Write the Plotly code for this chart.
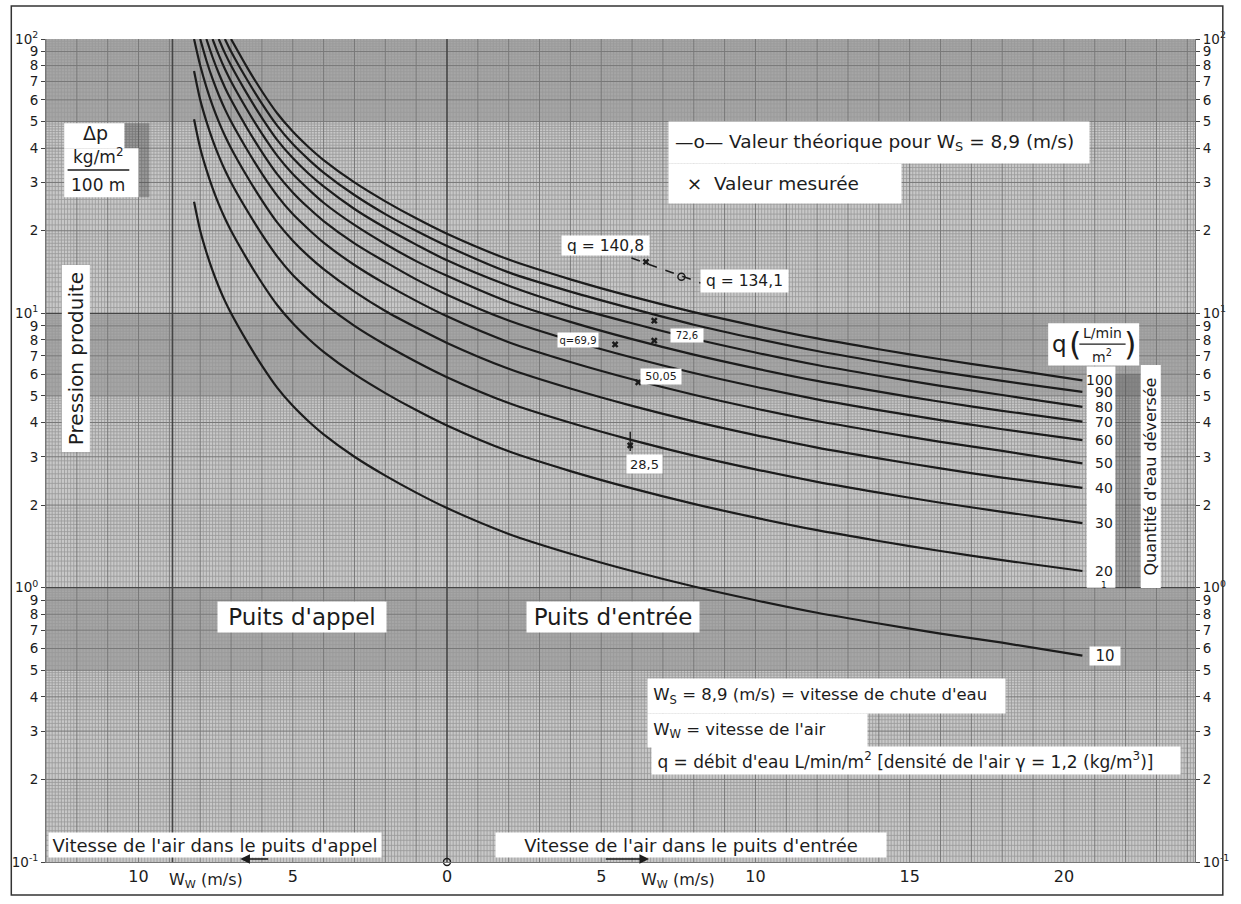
import math
import plotly.graph_objects as go

FONT = "DejaVu Sans"
INK = "#1c1c1c"

# Air velocity in the shaft W_w (m/s); negative = downcast (puits d'appel)
W_PTS = [-8.2, -8.0, -7.8, -7.6, -7.4, -7.2, -7.0, -6.5, -6.0, -5.5, -5.0, -4.5, -4.0,
         -3.0, -2.0, -1.0, 0.0, 2.0, 4.0, 6.0, 8.0, 10.0, 12.0, 14.0, 16.0, 18.0, 20.6]

# Pressure produced (kg/m2 per 100 m) for each water flow q (L/min/m2).
# Curves that enter from the top edge of the chart begin later in W_PTS.
Q_VALUES = [10, 20, 30, 40, 50, 60, 70, 80, 90, 100]
DP_Q10 = [25.5, 20.0, 16.7, 14.3, 12.5, 11.1, 10.0, 7.95, 6.45, 5.35, 4.6, 4.05, 3.62,
          3.0, 2.56, 2.22, 1.95, 1.57, 1.33, 1.15, 1.01, 0.90, 0.81, 0.74, 0.68, 0.63, 0.565]
DP_Q20 = [51, 40, 33.4, 28.6, 25.0, 22.2, 20.0, 15.9, 12.9, 10.7, 9.2, 8.1, 7.24,
          6.0, 5.12, 4.44, 3.90, 3.14, 2.66, 2.30, 2.02, 1.80, 1.62, 1.48, 1.36, 1.26, 1.15]
DP_Q30 = [76.5, 60, 50.1, 42.9, 37.5, 33.3, 30.0, 23.9, 19.4, 16.1, 13.8, 12.2, 10.9,
          9.0, 7.68, 6.66, 5.85, 4.71, 3.99, 3.45, 3.03, 2.70, 2.43, 2.22, 2.04, 1.89, 1.72]
DP_Q40 = [100, 80, 66.8, 57.2, 50, 44.4, 40, 31.8, 25.8, 21.4, 18.4, 16.2, 14.5,
          12.0, 10.2, 8.88, 7.80, 6.28, 5.32, 4.60, 4.04, 3.60, 3.24, 2.96, 2.72, 2.52, 2.31]
DP_Q50 = [100, 83.5, 71.5, 62.5, 55.5, 50, 39.8, 32.3, 26.8, 23.0, 20.3, 18.1,
          15.0, 12.8, 11.1, 9.75, 7.85, 6.65, 5.75, 5.05, 4.50, 4.05, 3.70, 3.40, 3.15, 2.84]
DP_Q60 = [100, 85.8, 75, 66.6, 60, 47.7, 38.7, 32.1, 27.6, 24.3, 21.7,
          18.0, 15.4, 13.3, 11.7, 9.42, 7.98, 6.90, 6.06, 5.40, 4.86, 4.44, 4.08, 3.78, 3.45]
DP_Q70 = [100, 87.5, 77.7, 70, 55.7, 45.2, 37.5, 32.2, 28.4, 25.3,
          21.0, 17.9, 15.5, 13.7, 11.0, 9.31, 8.05, 7.07, 6.30, 5.67, 5.18, 4.76, 4.41, 4.03]
DP_Q80 = [100, 88.8, 80, 63.6, 51.6, 42.8, 36.8, 32.4, 29.0,
          24.0, 20.5, 17.8, 15.6, 12.6, 10.6, 9.20, 8.08, 7.20, 6.48, 5.92, 5.44, 5.04, 4.56]
DP_Q90 = [100, 90, 71.6, 58.1, 48.2, 41.4, 36.5, 32.6,
          27.0, 23.0, 20.0, 17.6, 14.1, 12.0, 10.4, 9.09, 8.10, 7.29, 6.66, 6.12, 5.67, 5.17]
DP_Q100 = [100, 79.5, 64.5, 53.5, 46, 40.5, 36.2,
           30, 25.6, 22.2, 19.5, 15.7, 13.3, 11.5, 10.1, 9.0, 8.1, 7.4, 6.8, 6.3, 5.70]
CURVES = [DP_Q10, DP_Q20, DP_Q30, DP_Q40, DP_Q50, DP_Q60, DP_Q70, DP_Q80, DP_Q90, DP_Q100]

# Theoretical value (dashed segment with open circle) and measured points
THEO_LINE_W = [5.98, 8.23]
THEO_LINE_DP = [15.9, 12.9]
THEO_PT_W = [7.6]
THEO_PT_DP = [13.6]
MEAS_W = [6.45, 6.72, 5.45, 6.72, 6.2, 5.94]
MEAS_DP = [15.4, 9.4, 7.7, 7.95, 5.6, 3.3]
ERR_W = [5.94, 5.94]
ERR_DP = [3.15, 3.7]

X_TICKS = [-10, -5, 0, 5, 10, 15, 20]
X_TICK_TEXT = ["10", "5", "0", "5", "10", "15", "20"]

X_RANGE = [-13.0, 24.25]
Y_MIN, Y_MAX = 0.1, 100.0


def py(v):
    """paper y fraction for a pressure value on the log axis"""
    return (math.log10(v) + 1.0) / 3.0


def ly(v):
    """annotation y (log axis expects log10)"""
    return math.log10(v)


# ---------- graph-paper ruling ----------
def vlines(xs):
    gx, gy = [], []
    for x in xs:
        gx += [x, x, None]
        gy += [Y_MIN, Y_MAX, None]
    return gx, gy


def hlines(vals):
    gx, gy = [], []
    for v in vals:
        gx += [X_RANGE[0], X_RANGE[1], None]
        gy += [v, v, None]
    return gx, gy


fine_x = [k / 10 for k in range(-130, 243) if k % 10 != 0]
unit_x = [k for k in range(-13, 25) if k != 0]
fine_y, unit_y = [], []
for dec in (0.1, 1.0, 10.0):
    steps = list(range(100, 200, 5)) + list(range(200, 500, 10)) + list(range(500, 1000, 20))
    for i in steps:
        if i % 100 == 0:
            if i != 100:
                unit_y.append(round(i / 100 * dec, 6))
        else:
            fine_y.append(round(i / 100 * dec, 6))

fig = go.Figure()


def add_grid(gx, gy, color, width):
    fig.add_trace(go.Scatter(x=gx, y=gy, mode="lines", line=dict(color=color, width=width),
                             hoverinfo="skip", showlegend=False, connectgaps=False))


gx, gy = vlines(fine_x); add_grid(gx, gy, "#999999", 0.8)
gx, gy = hlines(fine_y); add_grid(gx, gy, "#999999", 0.8)
gx, gy = vlines(unit_x); add_grid(gx, gy, "#787878", 1.0)
gx, gy = hlines(unit_y); add_grid(gx, gy, "#787878", 1.0)
gx, gy = hlines([1.0, 10.0]); add_grid(gx, gy, "#454545", 1.4)
gx, gy = vlines([0.0, -8.9]); add_grid(gx, gy, "#454545", 1.6)

# ---------- curves ----------
for q, dp in zip(Q_VALUES, CURVES):
    fig.add_trace(go.Scatter(
        x=W_PTS[-len(dp):], y=dp, mode="lines",
        line=dict(color=INK, width=2.2, shape="spline", smoothing=0.8),
        name=f"q = {q}", hoverinfo="skip", showlegend=False))

fig.add_trace(go.Scatter(x=THEO_LINE_W, y=THEO_LINE_DP, mode="lines",
                         line=dict(color=INK, width=1.6, dash="dash"),
                         hoverinfo="skip", showlegend=False))
fig.add_trace(go.Scatter(x=THEO_PT_W, y=THEO_PT_DP, mode="markers",
                         marker=dict(symbol="circle-open", size=7, color=INK, line=dict(width=1.5)),
                         hoverinfo="skip", showlegend=False))
fig.add_trace(go.Scatter(x=ERR_W, y=ERR_DP, mode="lines", line=dict(color=INK, width=1.4),
                         hoverinfo="skip", showlegend=False))
fig.add_trace(go.Scatter(x=MEAS_W, y=MEAS_DP, mode="markers",
                         marker=dict(symbol="x", size=6, color=INK),
                         hoverinfo="skip", showlegend=False))
# origin marker on the bottom edge (also carries the right-hand axis)
fig.add_trace(go.Scatter(x=[0.0], y=[Y_MIN], yaxis="y2", mode="markers", cliponaxis=False,
                         marker=dict(symbol="circle-open", size=7, color=INK, line=dict(width=1.4)),
                         hoverinfo="skip", showlegend=False))

# ---------- shapes ----------
shapes = []
for hi, lo in [(100, 50), (10, 5), (1, 0.5)]:
    shapes.append(dict(type="rect", xref="paper", yref="paper", x0=0, x1=1,
                       y0=py(lo), y1=py(hi), fillcolor="rgba(0,0,0,0.17)",
                       line=dict(width=0), layer="below"))


def box(x0, x1, v0, v1, fill="white"):
    shapes.append(dict(type="rect", xref="x", yref="paper", x0=x0, x1=x1,
                       y0=py(v0), y1=py(v1), fillcolor=fill, line=dict(width=0), layer="above"))


box(-10.46, -9.65, 26.5, 49.3, "rgba(60,60,60,0.35)")   # hatched strip beside the unit box
box(-12.41, -10.46, 40.0, 49.3)                        # Δp unit box (upper part)
box(-12.41, -10.0, 26.5, 40.0)                         # Δp unit box (lower part)
box(19.49, 22.44, 6.46, 9.2)                           # q header
box(20.74, 21.67, 1.0, 6.4)                            # q label column
box(21.67, 22.48, 1.0, 6.0, "rgba(60,60,60,0.30)")     # hatched scale strip
shapes.append(dict(type="line", xref="x", yref="paper", x0=-12.3, x1=-10.3,
                   y0=py(33.3), y1=py(33.3), line=dict(color=INK, width=1.4), layer="above"))
shapes.append(dict(type="line", xref="x", yref="paper", x0=20.5, x1=22.0,
                   y0=py(7.72), y1=py(7.72), line=dict(color=INK, width=1.2), layer="above"))
# outer frame of the sheet
shapes.append(dict(type="rect", xref="paper", yref="paper", x0=-0.0302, x1=1.0242,
                   y0=-0.0401, y1=1.0401, line=dict(color="#333", width=1.5),
                   fillcolor="rgba(0,0,0,0)", layer="above"))

# ---------- text ----------
anns = []


def text(t, x, y, size=15, xanchor="center", yanchor="middle", bg=None, w=None, h=None,
         angle=0, align="center", xref="x", yref="y"):
    a = dict(text=t, x=x, y=y, xref=xref, yref=yref, showarrow=False, xanchor=xanchor,
             yanchor=yanchor, font=dict(family=FONT, size=size, color=INK),
             textangle=angle, align=align, borderpad=0)
    if bg:
        a["bgcolor"] = bg
    if w:
        a["width"] = w
    if h:
        a["height"] = h
    anns.append(a)


text("Δp", -11.4, ly(45.5), 19)
text("kg/m<sup>2</sup>", -11.3, ly(37.3), 17)
text("100 m", -11.3, ly(29.4), 17)
text("Pression produite", -12.03, ly(6.84), 20, bg="white", w=186, h=27, angle=-90)

text("\u00a0—o— Valeur théorique pour W<sub>S</sub> = 8,9 (m/s)", 7.16, ly(42.0), 18.5,
     xanchor="left", bg="white", w=420, h=41, align="left")
text("\u00a0\u00a0\u00a0×\u00a0\u00a0Valeur mesurée", 7.16, ly(29.8), 18.5,
     xanchor="left", bg="white", w=232, h=39, align="left")

text("q = 140,8", 3.68, ly(17.6), 15.5, xanchor="left", bg="white", w=87, h=19)
text("q = 134,1", 8.19, ly(13.1), 15.5, xanchor="left", bg="white", w=87, h=22)
text("q=69,9", 3.58, ly(8.0), 10, xanchor="left", bg="white", w=40, h=14)
text("72,6", 7.22, ly(8.28), 10, xanchor="left", bg="white", w=32, h=13)
text("50,05", 6.25, ly(5.9), 11, xanchor="left", bg="white", w=40, h=15)
text("28,5", 5.8, ly(2.82), 13, xanchor="left", bg="white", w=35, h=18)

for q, dp in zip(Q_VALUES, CURVES):
    if q == 10:
        text("10", 20.8, ly(dp[-1]), 15, xanchor="left", bg="white", w=30, h=18)
    else:
        text(str(q), 21.64, ly(dp[-1]), 14, xanchor="right")
text("1", 21.3, ly(1.025), 9)

text("q", 19.85, ly(7.74), 23)
text("(", 20.35, ly(7.74), 32)
text(")", 22.15, ly(7.74), 32)
text("L/min", 21.25, ly(8.5), 14)
text("m<sup>2</sup>", 21.25, ly(7.0), 14)
text("Quantité d'eau déversée", 22.82, ly(2.54), 16, bg="white", w=222, h=19, angle=-90)

text("Puits d'appel", -7.46, ly(0.78), 23, xanchor="left", bg="white", w=168, h=30)
text("Puits d'entrée", 2.55, ly(0.78), 23, xanchor="left", bg="white", w=172, h=30)

text("\u00a0W<sub>S</sub> = 8,9 (m/s) = vitesse de chute d'eau", 6.48, ly(0.402), 16.5,
     xanchor="left", bg="white", w=357, h=34, align="left")
text("\u00a0W<sub>W</sub> = vitesse de l'air", 6.48, ly(0.302), 16.5,
     xanchor="left", bg="white", w=219, h=33, align="left")
text("\u00a0q = débit d'eau L/min/m<sup>2</sup> [densité de l'air γ = 1,2 (kg/m<sup>3</sup>)]",
     6.6, ly(0.234), 17, xanchor="left", bg="white", w=528, h=27, align="left")

text("Vitesse de l'air dans le puits d'appel", -12.95, ly(0.1155), 18, xanchor="left",
     bg="white", w=332, h=24)
text("Vitesse de l'air dans le puits d'entrée", 1.55, ly(0.1155), 18, xanchor="left",
     bg="white", w=390, h=24)

text("W<sub>W</sub> (m/s)", -7.8, -0.022, 16, xref="x", yref="paper")
text("W<sub>W</sub> (m/s)", 7.5, -0.022, 16, xref="x", yref="paper")

# direction arrows just above the bottom edge
for tail, head in [(-5.75, -6.7), (5.1, 6.55)]:
    anns.append(dict(text="", x=head, y=ly(0.1025), ax=tail, ay=ly(0.1025),
                     xref="x", yref="y", axref="x", ayref="y", showarrow=True,
                     arrowhead=2, arrowsize=1.2, arrowwidth=1.6, arrowcolor=INK))

# ---------- axes ----------
y_vals, y_text = [], []
for e in (-1, 0, 1):
    for m in range(1, 10):
        y_vals.append(m * 10 ** e)
        y_text.append(f"10<sup>{e}</sup>" if m == 1 else str(m))
y_vals.append(100)
y_text.append("10<sup>2</sup>")

y_common = dict(type="log", range=[-1, 2], tickmode="array", tickvals=y_vals, ticktext=y_text,
                ticks="outside", ticklen=4, tickcolor="#444", showgrid=False, zeroline=False,
                showline=True, linecolor="#777", linewidth=1,
                tickfont=dict(family=FONT, size=13.5, color=INK), fixedrange=True)

fig.update_layout(
    width=1241, height=904,
    margin=dict(l=45, r=39, t=39, b=42),
    paper_bgcolor="white", plot_bgcolor="#c8c8c8",
    showlegend=False, hovermode=False,
    xaxis=dict(range=X_RANGE, tickmode="array", tickvals=X_TICKS, ticktext=X_TICK_TEXT,
               showgrid=False, zeroline=False, showline=True, linecolor="#777",
               ticks="", tickfont=dict(family=FONT, size=16, color=INK), fixedrange=True),
    yaxis=dict(**y_common, side="left"),
    yaxis2=dict(**y_common, side="right", overlaying="y"),
    shapes=shapes, annotations=anns,
)

fig.write_html("out.html")
